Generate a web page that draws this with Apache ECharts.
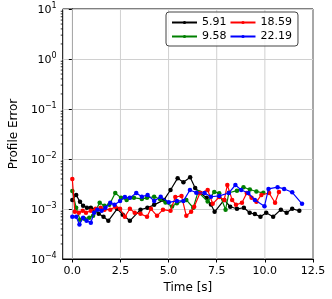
<!DOCTYPE html>
<html>
<head>
<meta charset="utf-8">
<script src="https://cdn.jsdelivr.net/npm/echarts@6/dist/echarts.min.js"></script>
<style>html,body{margin:0;padding:0;background:#fff}#c{width:332px;height:299px}</style>
</head>
<body>
<div id="c"></div>
<script>
// ---- data ----
const seriesNames = ['5.91', '9.58', '18.59', '22.19'];
const xTicks = [0, 2.5, 5, 7.5, 10, 12.5];
const yMinorTicks = [2e-4,3e-4,4e-4,5e-4,6e-4,7e-4,8e-4,9e-4,
  2e-3,3e-3,4e-3,5e-3,6e-3,7e-3,8e-3,9e-3,
  2e-2,3e-2,4e-2,5e-2,6e-2,7e-2,8e-2,9e-2,
  2e-1,3e-1,4e-1,5e-1,6e-1,7e-1,8e-1,9e-1,
  2,3,4,5,6,7,8,9];

const t591 = [0.0,0.2,0.4,0.56,0.76,0.96,1.16,1.37,1.62,1.87,2.33,2.62,2.99,3.54,3.9,4.25,4.76,5.1,5.47,5.77,6.12,6.38,6.63,6.98,7.2,7.39,7.89,8.2,8.55,8.91,9.21,9.48,9.77,10.07,10.43,10.83,11.13,11.42,11.79];
const v591 = [0.00152,0.00191,0.00139,0.00116,0.00106,0.00106,0.00097,0.00080,0.00070,0.00058,0.00101,0.00077,0.00058,0.00097,0.00106,0.00121,0.00152,0.00240,0.00414,0.00343,0.00431,0.00264,0.00211,0.00167,0.00123,0.00088,0.00152,0.00111,0.00101,0.00106,0.00084,0.00079,0.00070,0.00084,0.00070,0.00097,0.00084,0.00101,0.00092];

const t958 = [0.0,0.2,0.4,0.62,0.88,1.08,1.21,1.42,1.67,1.92,2.23,2.53,2.82,3.2,3.61,3.88,4.25,4.55,4.84,5.18,5.43,5.92,6.28,6.53,7.03,7.37,7.63,7.96,8.13,8.55,8.89,9.22,9.56,9.92];
const v958 = [0.00230,0.00106,0.00061,0.00064,0.00067,0.00073,0.00092,0.00133,0.00116,0.00121,0.00209,0.00167,0.00152,0.00167,0.00159,0.00167,0.00176,0.00158,0.00135,0.00112,0.00131,0.00152,0.00106,0.00220,0.00141,0.00220,0.00207,0.00097,0.00211,0.00233,0.00273,0.00246,0.00224,0.00211];

const t1859 = [0.0,0.13,0.34,0.54,0.71,0.96,1.21,1.47,1.67,1.97,2.23,2.48,2.73,2.99,3.24,3.54,3.88,4.08,4.4,4.71,5.1,5.35,5.67,5.92,6.17,6.33,6.63,7.03,7.29,7.63,7.89,8.05,8.3,8.5,8.81,9.06,9.31,9.56,9.82,10.22,10.53,10.73];
const v1859 = [0.00396,0.00088,0.00084,0.00092,0.00084,0.00092,0.00101,0.00106,0.00097,0.00097,0.00111,0.00101,0.00070,0.00101,0.00084,0.00080,0.00070,0.00101,0.00073,0.00097,0.00092,0.00174,0.00183,0.00073,0.00088,0.00111,0.00209,0.00240,0.00127,0.00174,0.00152,0.00302,0.00152,0.00121,0.00133,0.00209,0.00167,0.00139,0.00191,0.00209,0.00133,0.00219];

const t2219 = [0.0,0.2,0.37,0.56,0.74,0.96,1.13,1.3,1.52,1.72,1.97,2.19,2.48,2.73,2.99,3.32,3.61,3.91,4.25,4.59,5.01,5.43,5.77,6.11,6.44,6.87,7.2,7.63,8.13,8.47,8.77,9.14,9.48,9.98,10.19,10.66,11.0,11.42,11.93];
const v2219 = [0.00070,0.00070,0.00049,0.00067,0.00058,0.00053,0.00084,0.00097,0.00092,0.00106,0.00133,0.00121,0.00145,0.00174,0.00167,0.00209,0.00176,0.00191,0.00145,0.00176,0.00136,0.00145,0.00145,0.00240,0.00211,0.00209,0.00176,0.00183,0.00209,0.00302,0.00240,0.00209,0.00152,0.00114,0.00252,0.00273,0.00252,0.00216,0.00127];

const colors = ['#000000', '#008000', '#ff0000', '#0000ff'];
const X_MIN = -0.5, X_MAX = 12.5, Y_MIN = 1e-4, Y_MAX = 10;

const zip = (t, v) => t.map((x, i) => [x, v[i]]);
const seriesData = [zip(t591, v591), zip(t958, v958), zip(t1859, v1859), zip(t2219, v2219)];

const FONT = 'DejaVu Sans';
const chart = echarts.init(document.getElementById('c'), null, {renderer: 'canvas'});

const lineSeries = seriesNames.map((n, i) => ({
  name: n,
  type: 'line',
  data: seriesData[i],
  z: 3 + i,
  symbol: 'circle',
  symbolSize: 4.5,
  showSymbol: true,
  animation: false,
  lineStyle: {color: colors[i], width: 1.2},
  itemStyle: {color: colors[i]}
}));

function logLabel(v) {
  const e = Math.round(Math.log10(v));
  const es = String(e).replace('-', '\u2212');
  return '{b|10}{s|' + es + '}';
}

const option = {
  animation: false,
  backgroundColor: '#fff',
  textStyle: {fontFamily: FONT},
  grid: {left: 56, top: 9, right: 19, bottom: 40, show: true, borderColor: '#000', borderWidth: 1, backgroundColor: 'transparent'},
  legend: {
    data: seriesNames,
    orient: 'vertical',
    left: 166, top: 12, height: 30,
    itemGap: 3,
    itemWidth: 25, itemHeight: 4,
    padding: [5, 6, 4, 5],
    borderColor: '#444', borderWidth: 1, borderRadius: 3,
    backgroundColor: 'rgba(255,255,255,0.8)',
    textStyle: {fontFamily: FONT, fontSize: 11, color: '#000', width: 36}
  },
  xAxis: {
    type: 'value', min: X_MIN, max: X_MAX,
    name: 'Time [s]', nameLocation: 'middle', nameGap: 21,
    nameTextStyle: {fontFamily: FONT, fontSize: 12, color: '#000'},
    axisLine: {show: true, lineStyle: {color: '#000', width: 1}},
    axisTick: {show: true, inside: false, length: 3.5, customValues: xTicks, lineStyle: {color: '#000', width: 1}},
    axisLabel: {show: true, customValues: xTicks, margin: 7, fontFamily: FONT, fontSize: 11, color: '#000',
      formatter: v => v.toFixed(1)},
    splitLine: {show: false}
  },
  yAxis: {
    type: 'log', logBase: 10, min: Y_MIN, max: Y_MAX, interval: 1,
    name: 'Profile Error', nameLocation: 'middle', nameGap: 36, nameRotate: 90,
    nameTextStyle: {fontFamily: FONT, fontSize: 12, color: '#000'},
    axisLine: {show: true, lineStyle: {color: '#000', width: 1}},
    axisTick: {show: true, length: 3.5, lineStyle: {color: '#000', width: 1}},
    axisLabel: {show: true, margin: 6, fontFamily: FONT, color: '#000',
      formatter: logLabel,
      rich: {
        b: {fontFamily: FONT, fontSize: 11, color: '#000', lineHeight: 14, verticalAlign: 'bottom'},
        s: {fontFamily: FONT, fontSize: 8, color: '#000', lineHeight: 14, verticalAlign: 'top', padding: [0,0,6,0]}
      }},
    splitLine: {show: true, lineStyle: {color: '#d0d0d0', width: 1}}
  },
  series: [
    {
      type: 'custom', name: 'xgrid', silent: true, z: 1, clip: false,
      data: xTicks.map(v => [v]),
      renderItem: (params, api) => {
        const v = api.value(0);
        const p1 = api.coord([v, Y_MIN]);
        const p2 = api.coord([v, Y_MAX]);
        return {type: 'line', shape: {x1: p1[0], y1: p1[1], x2: p2[0], y2: p2[1]},
          style: {stroke: '#d0d0d0', lineWidth: 1}};
      },
      encode: {x: 0}
    },
    {
      type: 'custom', name: 'yminor', silent: true, z: 2, clip: false,
      data: yMinorTicks.map(v => [X_MIN, v]),
      renderItem: (params, api) => {
        const p = api.coord([api.value(0), api.value(1)]);
        return {type: 'line', shape: {x1: p[0] - 2, y1: p[1], x2: p[0], y2: p[1]},
          style: {stroke: '#000', lineWidth: 0.8}};
      },
      encode: {x: 0, y: 1}
    }
  ].concat(lineSeries)
};
chart.setOption(option);
</script>
</body>
</html>
